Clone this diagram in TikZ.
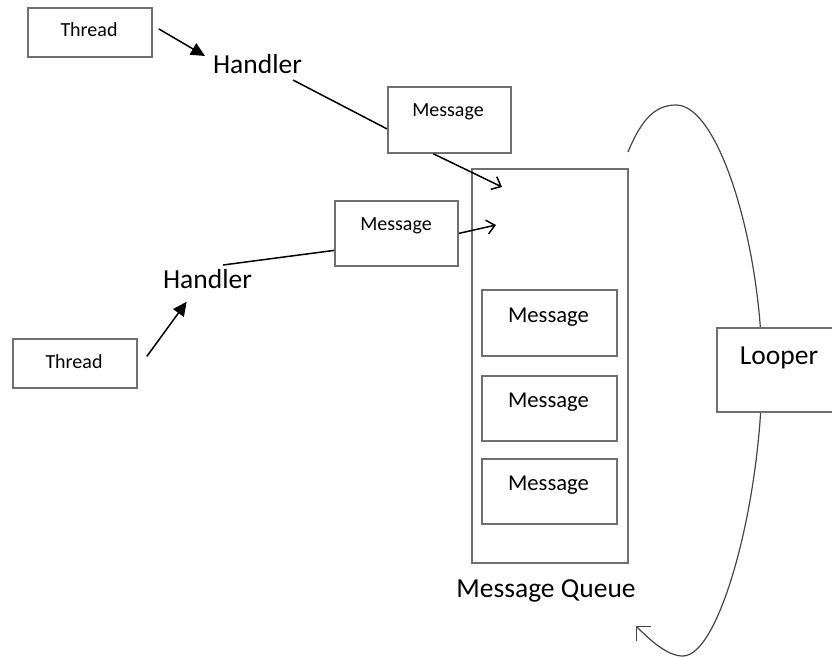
\documentclass[tikz,border=0pt]{standalone}
\usepackage{fontspec}
\setmainfont{Carlito}
\usetikzlibrary{arrows.meta}
\definecolor{boxgray}{RGB}{112,112,112}
\definecolor{arcgray}{RGB}{70,70,70}
\begin{document}
\begin{tikzpicture}[x=1pt,y=-1pt,
  box/.style={draw=boxgray, line width=1.8pt, fill=white, inner sep=0pt, anchor=north west},
  smalltxt/.style={font=\fontsize{20}{24}\selectfont, anchor=base, inner sep=0pt},
  midtxt/.style={font=\fontsize{22.6}{26}\selectfont, anchor=base, inner sep=0pt},
  bigtxt/.style={font=\fontsize{27.5}{32}\selectfont, anchor=base, inner sep=0pt},
  conn/.style={draw=black, line width=1.5pt},
  filltip/.style={-{Triangle[length=14pt,width=13pt]}},
  opentip/.style={-{Straight Barb[length=8pt,width=14pt,line width=1.5pt]}}
]
\useasboundingbox (0,0) rectangle (832,657);
\clip (0,0) rectangle (832,657);

% loop arc (behind the Looper box)
\coordinate (arcS) at (628,152);
\coordinate (arcE) at (636,626);
\draw[draw=arcgray, line width=1.2pt, -{Straight Barb[length=10.5pt,width=21pt,line width=1.2pt]}]
  (arcS) .. controls (642,118) and (656,105) .. (676,105)
  .. controls (720,105) and (762,250) .. (762,370)
  .. controls (762,500) and (720,656) .. (683,656)
  .. controls (668,656) and (652,642) .. (arcE);

% boxes
\node[box, minimum width=124pt, minimum height=49pt] (t1) at (27,7) {};
\node[box, minimum width=124pt, minimum height=49pt] (t2) at (12,338) {};
\node[box, minimum width=123pt, minimum height=66pt] (m1) at (387,86) {};
\node[box, minimum width=123pt, minimum height=65pt] (m2) at (334,200) {};
\node[box, minimum width=156pt, minimum height=394pt] (q) at (471,168) {};
\node[box, minimum width=135pt, minimum height=66pt] (qm1) at (481,289) {};
\node[box, minimum width=135pt, minimum height=65pt] (qm2) at (481,375) {};
\node[box, minimum width=135pt, minimum height=65pt] (qm3) at (481,458) {};
\node[box, minimum width=130pt, minimum height=84pt] (lp) at (716,327) {};

% texts
\node[smalltxt] (t1txt) at (89,36) {Thread};
\node[smalltxt] (t2txt) at (74,368) {Thread};
\node[smalltxt] (m1txt) at (448,116) {Message};
\node[smalltxt] (m2txt) at (396,230) {Message};
\node[midtxt] (qm1txt) at (548.5,322) {Message};
\node[midtxt] (qm2txt) at (548.5,407) {Message};
\node[midtxt] (qm3txt) at (548.5,490) {Message};
\node[bigtxt] (h1) at (257.5,73) {Handler};
\node[bigtxt] (h2) at (207.5,288) {Handler};
\node[bigtxt] (lptxt) at (779,364) {Looper};
\node[bigtxt] (qtxt) at (546,597) {Message Queue};

% connectors
\coordinate (q1) at (502,187);
\coordinate (q2) at (496,225);
\draw[conn, filltip] ([shift={(6,-3.5)}]t1.east) -- ([shift={(-52.5,-17)}]h1.base);
\draw[conn] ([shift={(35.5,7)}]h1.base) -- ([shift={(0,9)}]m1.west);
\draw[conn, opentip] ([shift={(-16,0)}]m1.south) -- (q1);
\draw[conn, opentip] (m2.east) -- (q2);
\draw[conn] ([shift={(15.5,-23)}]h2.base) -- ([shift={(0,17)}]m2.west);
\draw[conn, filltip] ([shift={(9,-7)}]t2.east) -- ([shift={(-20.8,13.7)}]h2.base);
\end{tikzpicture}
\end{document}
